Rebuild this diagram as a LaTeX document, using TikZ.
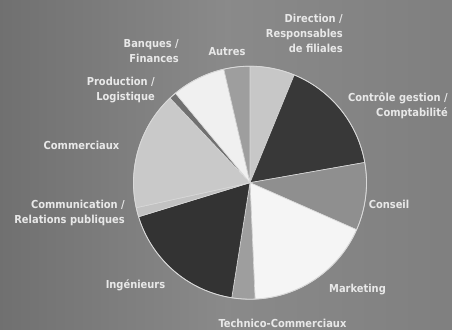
\documentclass[tikz,border=0pt]{standalone}
\usepackage{fontspec}
\setmainfont{DejaVu Sans Condensed}
\definecolor{bgL}{gray}{0.44}
\definecolor{bgM}{gray}{0.54}
\definecolor{bgR}{gray}{0.50}
\definecolor{edge}{gray}{0.85}
\definecolor{lab}{gray}{0.91}
\definecolor{cDir}{gray}{0.78}
\definecolor{cCtrl}{gray}{0.22}
\definecolor{cCons}{gray}{0.56}
\definecolor{cMkt}{gray}{0.96}
\definecolor{cTech}{gray}{0.62}
\definecolor{cIng}{gray}{0.20}
\definecolor{cComm}{gray}{0.76}
\definecolor{cComx}{gray}{0.79}
\definecolor{cProd}{gray}{0.44}
\definecolor{cBanq}{gray}{0.94}
\definecolor{cAut}{gray}{0.62}
\newcommand{\pieR}{116.5pt}
\newcommand{\pieslice}[3]{%
  \fill[#3, draw=edge, line width=0.6pt, line join=round] (c) -- ++(#1:\pieR) arc[start angle=#1, end angle=#2, radius=\pieR] -- cycle;}
\tikzset{
  lbl/.style={text=lab, font=\fontsize{11}{15}\selectfont\bfseries, inner sep=0pt},
}
\begin{document}
\begin{tikzpicture}[x=1pt,y=1pt]
\useasboundingbox (0,0) rectangle (452,329);
\shade[left color=bgL, right color=bgR, middle color=bgM] (0,0) rectangle (452,329);
\coordinate (c) at (250,146.3);
\pieslice{67.7}{90}{cDir}
\pieslice{10}{67.7}{cCtrl}
\pieslice{-23.8}{10}{cCons}
\pieslice{-87.5}{-23.8}{cMkt}
\pieslice{-99}{-87.5}{cTech}
\pieslice{197}{261}{cIng}
\pieslice{192.4}{197}{cComm}
\pieslice{133.4}{192.4}{cComx}
\pieslice{129.8}{133.4}{cProd}
\pieslice{103}{129.8}{cBanq}
\pieslice{90}{103}{cAut}
\draw[edge, line width=0.8pt] (c) circle[radius=\pieR];
\node[lbl, align=right, anchor=east] (dir) at (343,296) {Direction /\\Responsables\\de filiales};
\node[lbl, align=right, anchor=east] (banq) at (179,277.5) {Banques /\\Finances};
\node[lbl] (aut) at (227,277) {Autres};
\node[lbl, align=right, anchor=east] (prod) at (155,239) {Production /\\Logistique};
\node[lbl] (comx) at (81.5,184) {Commerciaux};
\node[lbl, align=right, anchor=east] (comm) at (125,116) {Communication /\\Relations publiques};
\node[lbl, align=right, anchor=east] (ctrl) at (448,223.5) {Contrôle gestion /\\Comptabilité};
\node[lbl] (cons) at (389,125) {Conseil};
\node[lbl] (ing) at (135.5,44) {Ingénieurs};
\node[lbl] (mkt) at (357.5,39) {Marketing};
\node[lbl] (tech) at (282.5,6) {Technico-Commerciaux};
\end{tikzpicture}
\end{document}
